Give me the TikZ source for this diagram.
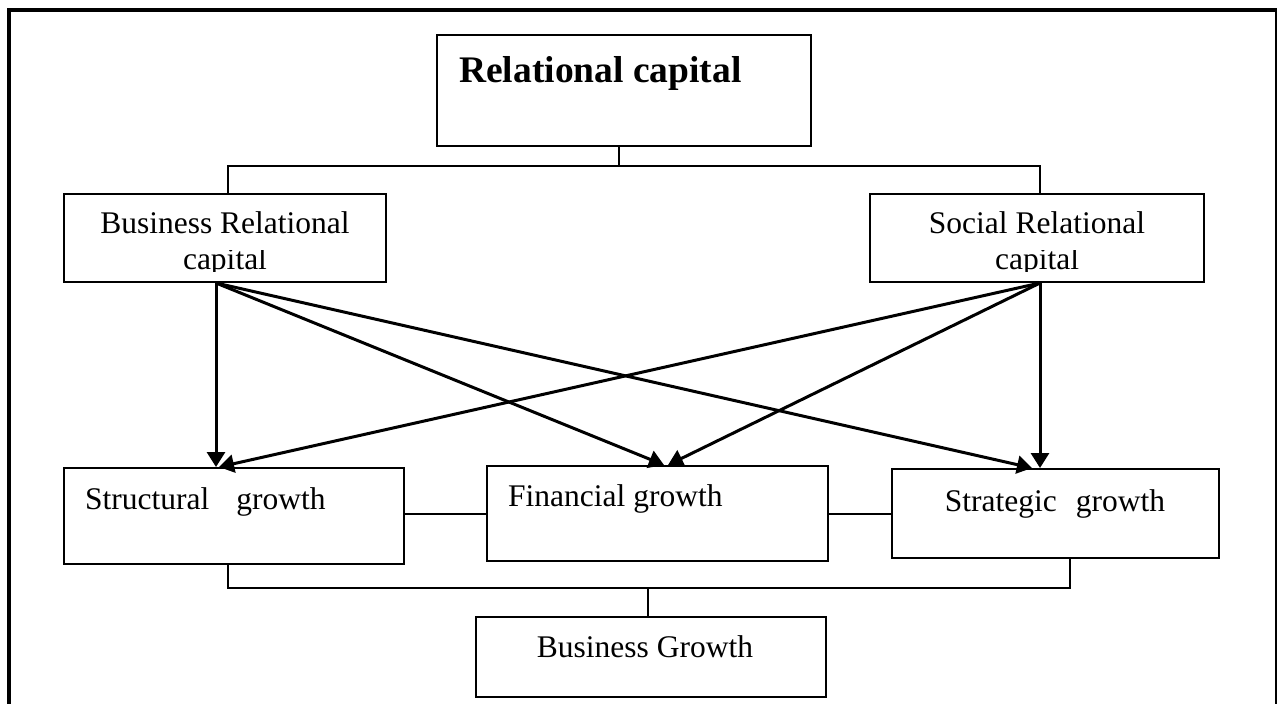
\documentclass[tikz,border=0pt]{standalone}
\usepackage{fontspec}
\setmainfont{Liberation Serif}
\usetikzlibrary{arrows.meta,calc}

\tikzset{
  box/.style={draw, line width=2pt, rectangle, inner sep=0pt, fill=none},
  txt/.style={inner sep=0pt, font=\fontsize{31.5}{36}\selectfont},
  title/.style={inner sep=0pt, font=\fontsize{37.5}{44}\selectfont\bfseries},
  link/.style={line width=2pt},
  flow/.style={line width=3pt, -{Triangle[length=15pt,width=18pt]}},
  frame/.style={line width=4pt}
}

\begin{document}
\begin{tikzpicture}[x=1pt,y=-1pt]
\useasboundingbox (0,0) rectangle (1277,704);

% page frame (open at the bottom)
\draw[frame] (9,704) -- (9,10) -- (1277,10);
\draw[line width=2pt] (1276,10) -- (1276,704);

% boxes
\node[box, minimum width=374pt, minimum height=111pt] (rc)  at (624,90.5) {};
\node[box, minimum width=322pt, minimum height=88pt]  (brc) at (225,238) {};
\node[box, minimum width=334pt, minimum height=88pt]  (src) at (1037,238) {};
\node[box, minimum width=340pt, minimum height=96pt]  (sg)  at (234,516) {};
\node[box, minimum width=341pt, minimum height=95pt]  (fg)  at (657.5,513.5) {};
\node[box, minimum width=327pt, minimum height=89pt]  (stg) at (1055.5,513.5) {};
\node[box, minimum width=350pt, minimum height=80pt]  (bg)  at (651,657) {};

% box texts
\node[title, anchor=base west] (rc-t) at (459,82) {Relational capital};
\node[txt, anchor=base] (brc-t1) at (225,233) {Business Relational};
\node[txt, anchor=base] (src-t1) at (1037,233) {Social Relational};
\begin{scope}
  \clip (0,250) rectangle (1277,271);
  \node[txt, anchor=base] (brc-t2) at (225,269.5) {capital};
  \node[txt, anchor=base] (src-t2) at (1037,269.5) {capital};
\end{scope}
\node[txt, anchor=base west] (sg-t)  at (85,509) {Structural\hspace{19pt} growth};
\node[txt, anchor=base west] (fg-t)  at (508,506) {Financial growth};
\node[txt, anchor=base]      (stg-t) at (1055,511) {Strategic\hspace{11pt} growth};
\node[txt, anchor=base]      (bg-t)  at (645,657) {Business Growth};

% tree connectors
\coordinate (j1) at (619,166);
\coordinate (j2) at (648,588);
\draw[link] ([xshift=-5pt]rc.south) -- (j1);
\draw[link] ([xshift=3pt]brc.north) |- (j1) -| ([xshift=3pt]src.north);
\draw[link] (sg.east |- fg.west) -- (fg.west);
\draw[link] (fg.east) -- (stg.west);
\draw[link] ([xshift=-6pt]sg.south) |- (j2);
\draw[link] ([xshift=14.5pt]stg.south) |- (j2);
\draw[link] (j2) -- ([xshift=-3pt]bg.north);

% influence arrows
\coordinate (b0) at ([xshift=-9pt]brc.south);
\coordinate (s0) at ([xshift=3pt]src.south);
\draw[flow] (b0) -- ([xshift=-18pt]sg.north);
\draw[flow] (b0) -- ([xshift=6.5pt]fg.north);
\draw[flow] (b0) -- ([xshift=-23.5pt]stg.north);
\draw[flow] (s0) -- ([xshift=-15pt]sg.north);
\draw[flow] (s0) -- ([xshift=10.5pt]fg.north);
\draw[flow] (s0) -- ([xshift=-15.5pt]stg.north);
\end{tikzpicture}
\end{document}
